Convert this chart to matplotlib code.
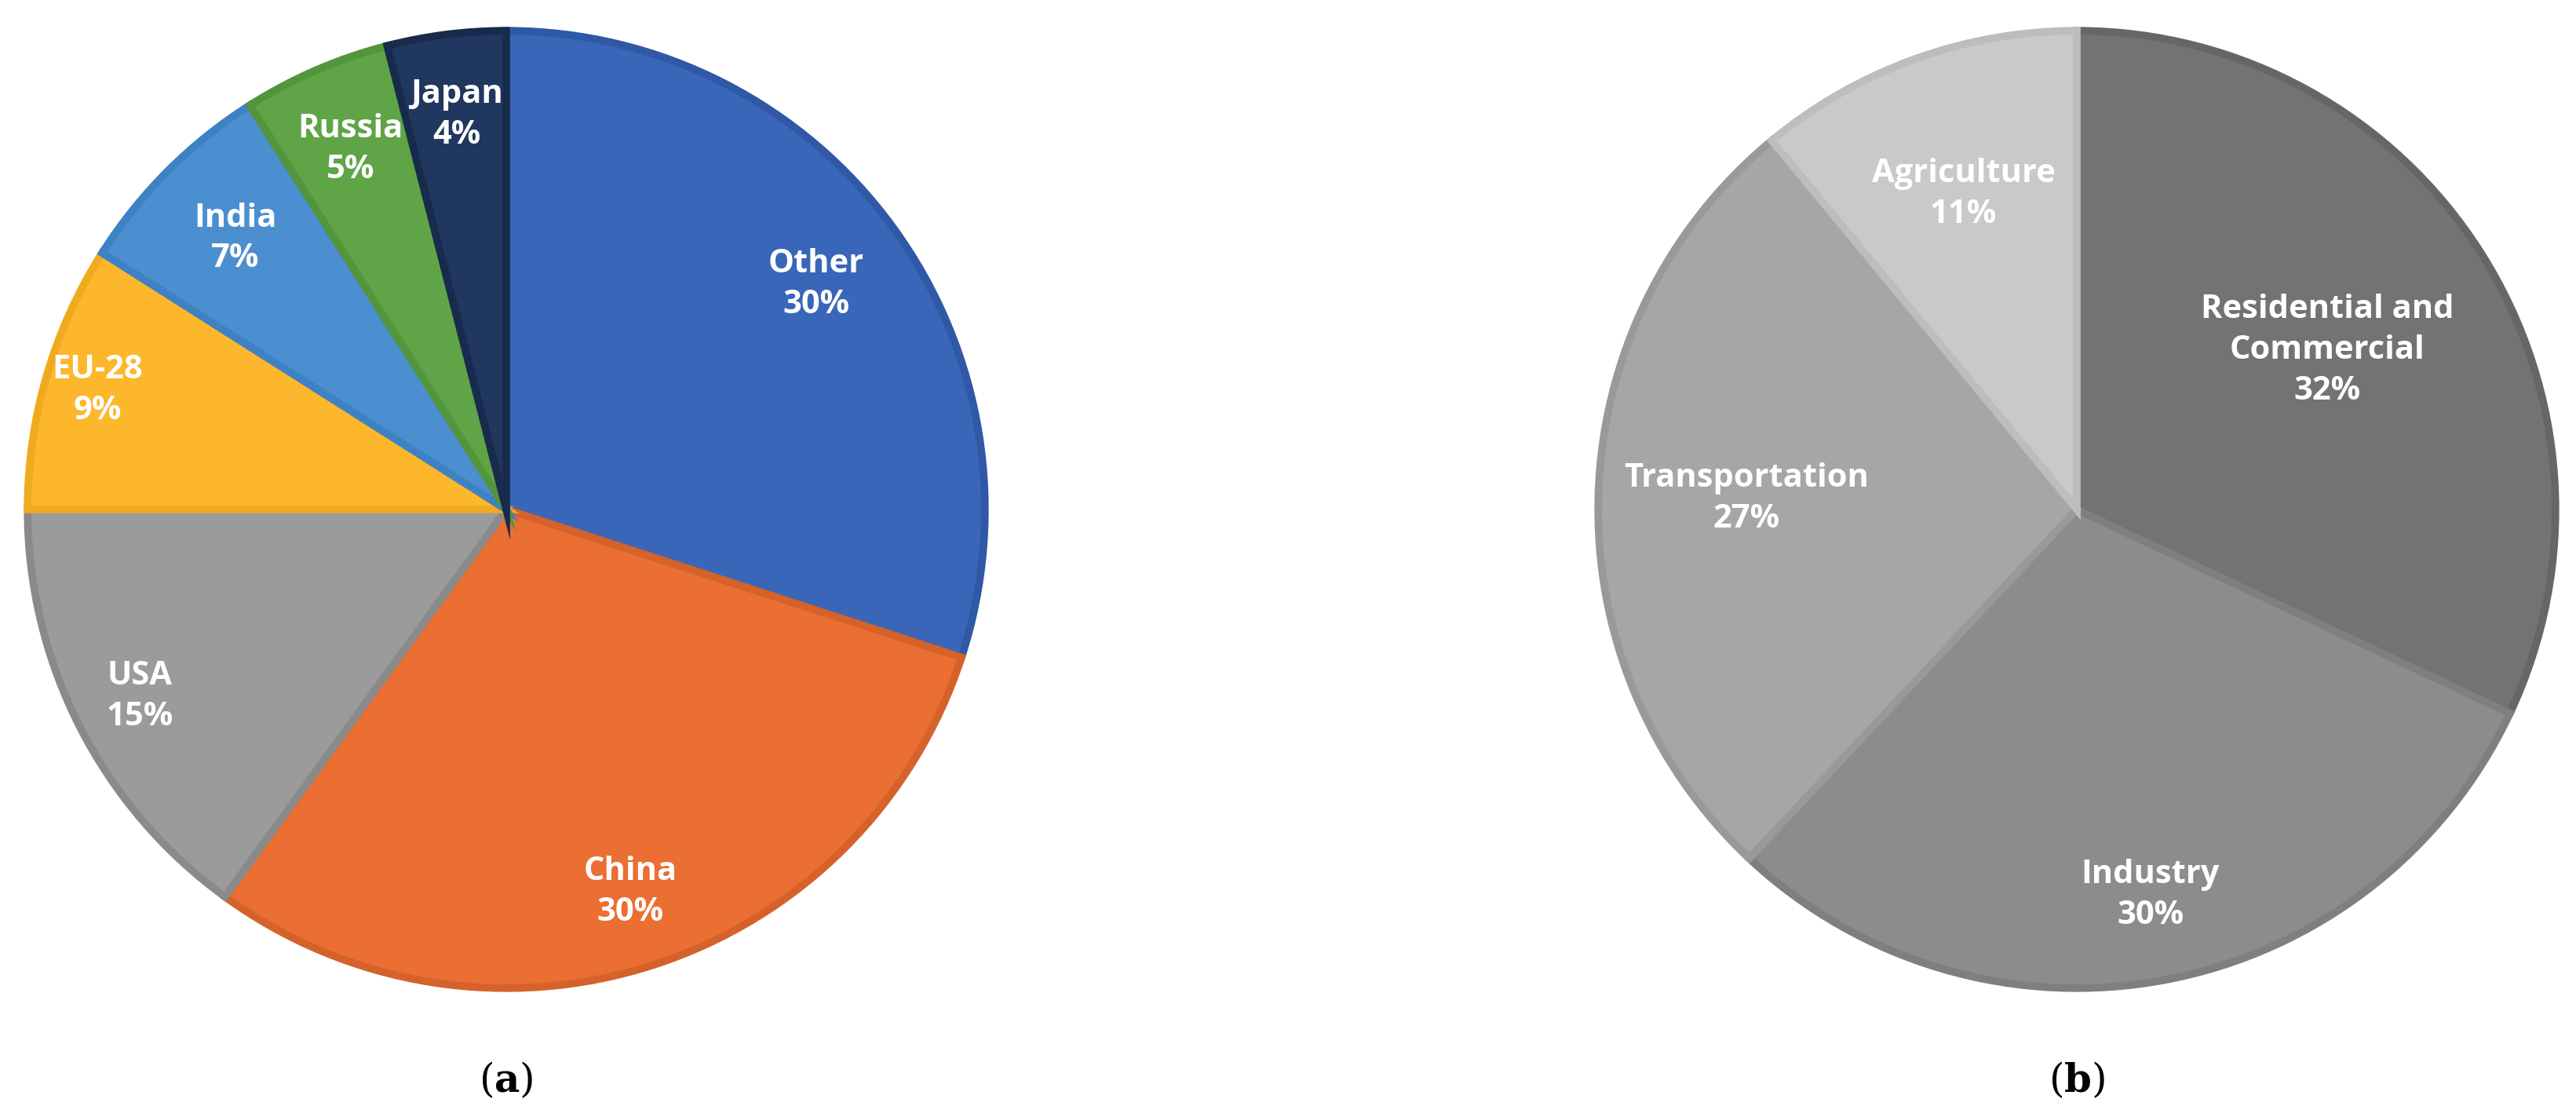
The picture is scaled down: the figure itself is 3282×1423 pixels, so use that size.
import matplotlib
matplotlib.use("Agg")
import matplotlib.pyplot as plt
import numpy as np

plt.rcParams["mathtext.fontset"] = "dejavuserif"

countries = ["Other", "China", "USA", "EU-28", "India", "Russia", "Japan"]
country_pct = [30, 30, 15, 9, 7, 5, 4]
country_colors = ["#3A66B9", "#EB6E32", "#9B9B9B", "#FDB72C", "#4B8FD0", "#5FA446", "#20375F"]
country_edges = ["#2F58A6", "#D5622A", "#8A8A8A", "#F0AA20", "#3F82C4", "#52953C", "#182B4C"]

sectors = ["Residential and\nCommercial", "Industry", "Transportation", "Agriculture"]
sector_pct = [32, 30, 27, 11]
sector_colors = ["#737373", "#8C8C8C", "#A6A6A6", "#C9C9C9"]
sector_edges = ["#666666", "#7F7F7F", "#999999", "#BDBDBD"]

W, H = 3282, 1423
fig = plt.figure(figsize=(W/100, H/100), dpi=100)
fig.patch.set_facecolor("white")

def make_pie(cx, cy, r, vals, cols, edges, labels, dists, fs):
    ax = fig.add_axes([(cx-r)/W, (H-cy-r)/H, 2*r/W, 2*r/H])
    wedges, _ = ax.pie(vals, colors=cols, startangle=90, counterclock=False,
                       wedgeprops=dict(linewidth=7))
    for w, e in zip(wedges, edges):
        w.set_edgecolor(e)
    for w, lab, v, d in zip(wedges, labels, vals, dists):
        ang = np.deg2rad((w.theta1 + w.theta2) / 2)
        ax.text(d*np.cos(ang), d*np.sin(ang), f"{lab}\n{v}%", ha="center", va="center",
                color="white", fontsize=fs, fontweight="bold", family="Open Sans",
                linespacing=1.35)
    ax.set_xlim(-1.02, 1.02); ax.set_ylim(-1.02, 1.02)
    ax.set_aspect("equal")
    ax.axis("off")
    return ax

make_pie(645, 649, 622, country_pct, country_colors, country_edges, countries,
         [0.80, 0.84, 0.86, 0.89, 0.80, 0.82, 0.83], 30)
make_pie(2646, 649, 622, sector_pct, sector_colors, sector_edges, sectors,
         [0.62, 0.82, 0.69, 0.70], 30)

fig.text(645/W, 1-1377/H, r"($\mathbf{a}$)", ha="center", va="center", fontsize=36, family="DejaVu Serif")
fig.text(2646/W, 1-1377/H, r"($\mathbf{b}$)", ha="center", va="center", fontsize=36, family="DejaVu Serif")

fig.savefig("out.png", dpi=100)
